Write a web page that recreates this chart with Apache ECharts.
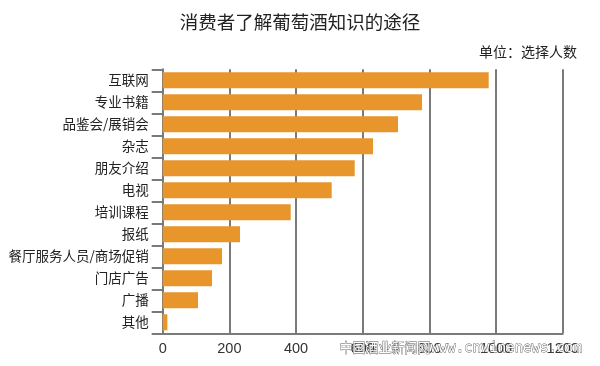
<!DOCTYPE html>
<html><head><meta charset="utf-8">
<script src="https://cdn.jsdelivr.net/npm/echarts@6/dist/echarts.min.js"></script>
<style>html,body{margin:0;padding:0;background:#fff}#c{width:600px;height:366px}</style>
</head><body><div id="c"></div>
<script>
var categories = ['互联网','专业书籍','品鉴会/展销会','杂志','朋友介绍','电视','培训课程','报纸','餐厅服务人员/商场促销','门店广告','广播','其他'];
var values = [978, 778, 706, 631, 576, 507, 384, 232, 178, 148, 106, 14];
var xTicks = [0, 200, 400, 600, 800, 1000, 1200];
var titleText = '消费者了解葡萄酒知识的途径';
var unitText = '单位：选择人数';
var watermarkCn = '中国酒业新闻网';
var watermarkUrl = 'www.cnwinenews.com';

var chart = echarts.init(document.getElementById('c'), null, {renderer: 'canvas'});
var font = '"Noto Sans CJK SC", "Noto Sans", sans-serif';
chart.setOption({
  animation: false,
  backgroundColor: '#ffffff',
  title: [
    {text: titleText, left: 'center', top: 8, textStyle: {fontFamily: font, fontSize: 18.5, fontWeight: 'normal', color: '#222'}},
    {text: unitText, right: 18, top: 40, textStyle: {fontFamily: font, fontSize: 14, fontWeight: 'normal', color: '#222'}}
  ],
  grid: {left: 162.7, right: 37.3, top: 69.3, bottom: 32.7, containLabel: false},
  xAxis: {
    type: 'value', min: xTicks[0], max: xTicks[xTicks.length - 1], interval: 200,
    axisLine: {show: true, lineStyle: {color: '#7a7a7a', width: 2}},
    axisTick: {show: false},
    splitLine: {show: true, lineStyle: {color: '#7a7a7a', width: 2}},
    axisLabel: {fontFamily: '"Liberation Sans", Arial, sans-serif', fontSize: 14.5, color: '#333', margin: 8,
      formatter: function (v) { return String(v); }}
  },
  yAxis: {
    type: 'category', data: categories, inverse: true,
    axisLine: {show: true, lineStyle: {color: '#7a7a7a', width: 2}},
    axisTick: {show: true, length: 11, lineStyle: {color: '#7a7a7a', width: 2}},
    axisLabel: {fontFamily: font, fontSize: 13.5, color: '#222', margin: 14}
  },
  series: [{
    type: 'bar', data: values, barCategoryGap: '27%',
    itemStyle: {color: '#E8962B'}, silent: true
  }],
  graphic: [
    {type: 'text', left: 339, top: 340, z: 100, style: {text: watermarkCn, font: '13px "Noto Sans CJK SC"', fill: '#ffffff', stroke: '#555', lineWidth: 0.8}},
    {type: 'text', left: 430, top: 341, z: 100, style: {text: watermarkUrl, font: '14px "DejaVu Sans Mono"', fill: '#ffffff', stroke: '#555', lineWidth: 0.8}}
  ]
});
</script></body></html>
